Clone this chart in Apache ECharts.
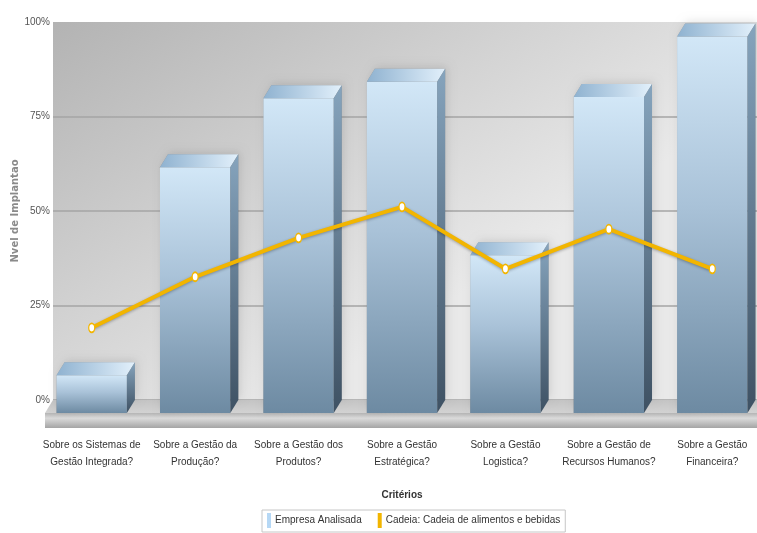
<!DOCTYPE html>
<html>
<head>
<meta charset="utf-8">
<script src="https://cdn.jsdelivr.net/npm/echarts@6/dist/echarts.min.js"></script>
<style>
  html, body { margin: 0; padding: 0; background: #fff; }
  #chart { width: 757px; height: 533px; }
</style>
</head>
<body>
<div id="chart"></div>
<script>
// categorias do eixo x
const criterios = [
  'Sobre os Sistemas de\nGestão Integrada?',
  'Sobre a Gestão da\nProdução?',
  'Sobre a Gestão dos\nProdutos?',
  'Sobre a Gestão\nEstratégica?',
  'Sobre a Gestão\nLogistica?',
  'Sobre a Gestão de\nRecursos Humanos?',
  'Sobre a Gestão\nFinanceira?'
];
// valores (%)
const empresaAnalisada = [10, 65, 83.3, 87.6, 41.7, 83.6, 99.6];
const cadeiaAlimentos = [19.1, 32.6, 42.9, 51.1, 34.7, 45.2, 34.7];
const yTicks = [0, 25, 50, 75, 100];

const FONT = 'Liberation Sans';
const DX = 8, DY = 13; // profundidade 3D
const COR_BARRA = '#b6d8f5';
const COR_LINHA = '#f2b500';

const chart = echarts.init(document.getElementById('chart'));

function grad(x, y, x2, y2, stops) {
  return { type: 'linear', x: x, y: y, x2: x2, y2: y2,
    colorStops: stops.map(s => ({ offset: s[0], color: s[1] })) };
}

function renderBar(params, api) {
  const idx = api.value(0);
  const top = api.coord([idx, api.value(1)]);
  const base = api.coord([idx, 0]);
  const w = api.size([1, 0])[0] * 0.68;
  const cx = top[0];
  const l = cx - w / 2, r = cx + w / 2;
  const yt = top[1], yb = base[1];
  return {
    type: 'group',
    children: [
      { // sombra
        type: 'polygon',
        shape: { points: [[l, yt + DY], [l + DX, yt], [r + DX, yt], [r + DX, yb], [l, yb + DY]] },
        style: { fill: 'rgba(0,0,0,0.25)', shadowBlur: 8, shadowColor: 'rgba(0,0,0,0.45)', shadowOffsetX: 2, shadowOffsetY: -2 }
      },
      { // frente
        type: 'rect',
        shape: { x: l, y: yt + DY, width: w, height: yb - yt },
        style: { fill: grad(0, 0, 0, 1, [[0, '#d2e7f7'], [0.45, '#a9c2d8'], [1, '#6d8aa2']]) }
      },
      { // topo
        type: 'polygon',
        shape: { points: [[l, yt + DY], [l + DX, yt], [r + DX, yt], [r, yt + DY]] },
        style: { fill: grad(0, 0, 1, 0, [[0, '#8fb2d0'], [1, '#e2f0fb']]) }
      },
      { // lateral
        type: 'polygon',
        shape: { points: [[r, yt + DY], [r + DX, yt], [r + DX, yb], [r, yb + DY]] },
        style: { fill: grad(0, 0, 0, 1, [[0, '#86a4bd'], [1, '#3e5163']]) }
      }
    ]
  };
}

const option = {
  animation: false,
  backgroundColor: '#fff',
  textStyle: { fontFamily: FONT },
  graphic: [
    { // piso superior
      type: 'polygon', z: 1,
      shape: { points: [[53, 400], [757, 400], [757, 413], [45, 413]] },
      style: { fill: grad(0, 0, 0, 1, [[0, '#c4c4c4'], [1, '#d2d2d2']]) }
    },
    { // borda do piso
      type: 'rect', z: 1,
      shape: { x: 45, y: 413, width: 712, height: 15 },
      style: { fill: grad(0, 0, 0, 1, [[0, '#b4b4b4'], [0.35, '#dadada'], [1, '#a4a4a4']]) }
    }
  ],
  legend: {
    left: 262,
    top: 510,
    itemWidth: 4,
    itemHeight: 15,
    itemGap: 16,
    icon: 'rect',
    padding: [3, 5, 4, 5],
    borderColor: '#c6c6c6',
    borderWidth: 1,
    backgroundColor: '#fff',
    textStyle: { fontFamily: FONT, fontSize: 10, color: '#333', padding: [0, 0, 0, -1] },
    data: [
      { name: 'Empresa Analisada', itemStyle: { color: COR_BARRA } },
      { name: 'Cadeia: Cadeia de alimentos e bebidas', itemStyle: { color: COR_LINHA, borderWidth: 0 } }
    ]
  },
  grid: [
    { // parede de fundo
      left: 53, right: 0, top: 22, bottom: 133,
      outerBoundsMode: 'none',
      show: true, borderWidth: 0,
      backgroundColor: grad(0, 0, 0.35, 1, [[0, '#b3b3b3'], [0.6, '#d4d4d4'], [1, '#e9e9e9']])
    },
    { // plano frontal das categorias
      left: 40, right: -7, top: 22, bottom: 133,
      outerBoundsMode: 'none'
    }
  ],
  xAxis: [
    { gridIndex: 0, type: 'category', data: criterios, show: false },
    {
      gridIndex: 1,
      type: 'category',
      data: criterios,
      axisLine: { show: false },
      axisTick: { show: false },
      axisLabel: { fontFamily: FONT, fontSize: 10, color: '#333', margin: 37, lineHeight: 17, interval: 0 },
      name: 'Critérios',
      nameLocation: 'middle',
      nameGap: 90,
      nameMoveOverlap: false,
      nameTextStyle: { fontFamily: FONT, fontSize: 10, fontWeight: 'bold', color: '#333' }
    }
  ],
  yAxis: [
    {
      gridIndex: 0,
      type: 'value',
      min: 0, max: 100, interval: 25,
      axisLine: { show: false },
      axisTick: { show: false },
      axisLabel: { fontFamily: FONT, fontSize: 10, color: '#555', margin: 3,
        formatter: v => (yTicks.indexOf(v) >= 0 ? v + '%' : '') },
      splitLine: { showMaxLine: false, lineStyle: { color: '#a5a5a5', width: 1.5 } },
      name: 'Nvel de Implantao',
      nameLocation: 'middle',
      nameGap: 33,
      nameMoveOverlap: false,
      nameTextStyle: { fontFamily: 'DejaVu Sans', fontSize: 10, fontWeight: 'bold', color: '#8a8a8a' }
    },
    { gridIndex: 1, type: 'value', min: 0, max: 100, show: false }
  ],
  series: [
    {
      name: 'Empresa Analisada',
      type: 'custom',
      xAxisIndex: 1,
      yAxisIndex: 1,
      z: 3,
      itemStyle: { color: COR_BARRA },
      renderItem: renderBar,
      encode: { x: 0, y: 1 },
      data: empresaAnalisada.map((v, i) => [i, v])
    },
    {
      name: 'Cadeia: Cadeia de alimentos e bebidas',
      type: 'line',
      xAxisIndex: 1,
      yAxisIndex: 1,
      z: 5,
      data: cadeiaAlimentos,
      symbol: 'circle',
      symbolSize: [6, 9],
      color: COR_LINHA,
      lineStyle: { color: COR_LINHA, width: 4, shadowBlur: 3, shadowColor: 'rgba(0,0,0,0.3)', shadowOffsetY: 1 },
      itemStyle: { color: '#fff', borderColor: COR_LINHA, borderWidth: 1.5 }
    }
  ]
};

chart.setOption(option);
</script>
</body>
</html>
